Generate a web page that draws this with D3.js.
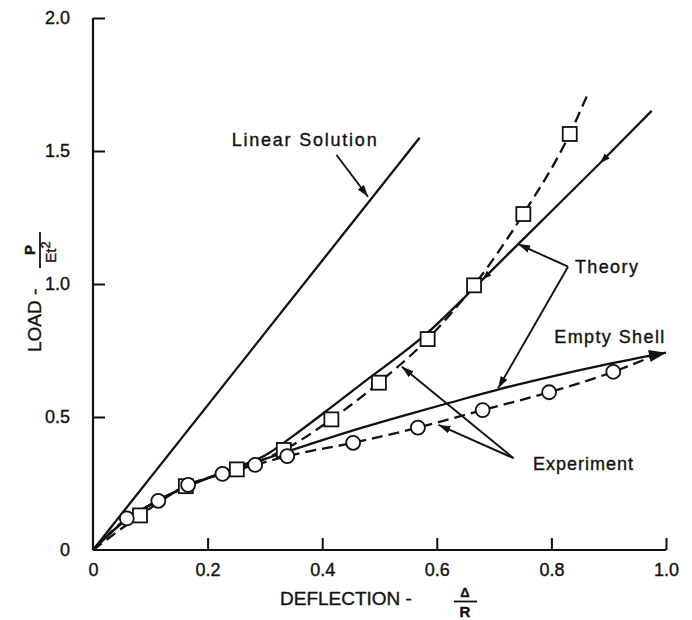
<!DOCTYPE html>
<html><head><meta charset="utf-8">
<script src="https://cdn.jsdelivr.net/npm/d3@7"></script>
<style>html,body{margin:0;padding:0;background:#fff;}svg text{font-family:"Liberation Sans",Arial,sans-serif;fill:#111;stroke:#111;stroke-width:0.35px;}</style>
</head><body><svg id="c" width="692" height="620"></svg>
<script>
// ---- data ----
const xTicks = [0, 0.2, 0.4, 0.6, 0.8, 1.0];
const xTickLabels = ["0", "0.2", "0.4", "0.6", "0.8", "1.0"];
const yTicks = [0, 0.5, 1.0, 1.5, 2.0];
const yTickLabels = ["0", "0.5", "1.0", "1.5", "2.0"];

const linearX = [0, 0.57];
const linearY = [0, 1.55];

const theoryFilledX = [0, 0.05, 0.1, 0.15, 0.2, 0.25, 0.3, 0.35, 0.416, 0.466, 0.584, 0.665, 0.742, 0.885, 0.975];
const theoryFilledY = [0, 0.10, 0.17, 0.225, 0.27, 0.31, 0.355, 0.43, 0.537, 0.62, 0.817, 0.985, 1.15, 1.455, 1.651];

const theoryEmptyX = [0, 0.05, 0.1, 0.15, 0.2, 0.25, 0.3, 0.36, 0.45, 0.55, 0.62, 0.71, 0.8, 0.89, 1.0];
const theoryEmptyY = [0, 0.10, 0.17, 0.225, 0.27, 0.305, 0.342, 0.385, 0.447, 0.51, 0.552, 0.605, 0.652, 0.695, 0.742];

const squareX = [0.082, 0.162, 0.251, 0.333, 0.416, 0.499, 0.584, 0.665, 0.751, 0.832];
const squareY = [0.13, 0.24, 0.303, 0.376, 0.491, 0.629, 0.793, 0.995, 1.263, 1.564];
const squareLineEnd = [0.864, 1.717];

const circleX = [0.059, 0.114, 0.166, 0.226, 0.283, 0.339, 0.454, 0.567, 0.680, 0.796, 0.908];
const circleY = [0.119, 0.185, 0.245, 0.286, 0.32, 0.353, 0.403, 0.46, 0.526, 0.593, 0.670];
const circleLineEnd = [0.99, 0.74];

// ---- layout ----
const svg = d3.select("#c");
const x = d3.scaleLinear().domain([0, 1]).range([93, 666]);
const y = d3.scaleLinear().domain([0, 2]).range([550, 18]);

const defs = svg.append("defs");
defs.append("marker").attr("id", "ah").attr("viewBox", "0 0 10 10").attr("refX", 10).attr("refY", 5)
  .attr("markerWidth", 12).attr("markerHeight", 12).attr("markerUnits", "userSpaceOnUse").attr("orient", "auto")
  .append("path").attr("d", "M0,1.8 L10,5 L0,8.2 Z").attr("fill", "#111");

// axes
const xAxis = d3.axisBottom(x).tickValues(xTicks).tickSize(-12).tickFormat((d, i) => xTickLabels[i]).tickPadding(22);
const gx = svg.append("g").attr("transform", "translate(0,550)").call(xAxis);
const yAxis = d3.axisLeft(y).tickValues(yTicks).tickSize(-12).tickFormat((d, i) => yTickLabels[i]).tickPadding(23);
const gy = svg.append("g").attr("transform", "translate(93,0)").call(yAxis);
[gx, gy].forEach(g => {
  g.select(".domain").attr("stroke", "#111").attr("stroke-width", 2.2);
  g.selectAll(".tick line").attr("stroke", "#111").attr("stroke-width", 2);
  g.selectAll(".tick text").attr("font-size", 18).attr("fill", "#111")
    .style("font-family", "'Liberation Sans',Arial,sans-serif");
});
gx.select(".domain").attr("d", `M${x(0)},0H${x(1)}`);
gy.select(".domain").attr("d", `M0,${y(0)}V${y(2)}`);
gy.selectAll(".tick").filter(d => d === 0).select("line").remove();
gx.selectAll(".tick").filter(d => d === 0).select("line").remove();
gx.selectAll(".tick text").attr("dy", "0.2em");

// axis titles
const xt = svg.append("g");
xt.append("text").attr("x", 280).attr("y", 605).attr("font-size", 19).text("DEFLECTION -");
xt.append("text").attr("x", 465).attr("y", 597).attr("font-size", 13).attr("font-weight", "bold").attr("text-anchor", "middle").text("Δ");
xt.append("line").attr("x1", 454).attr("x2", 477).attr("y1", 601.5).attr("y2", 601.5).attr("stroke", "#111").attr("stroke-width", 1.8);
xt.append("text").attr("x", 465).attr("y", 617).attr("font-size", 15).attr("font-weight", "bold").attr("text-anchor", "middle").text("R");

const yt = svg.append("g").attr("transform", "translate(41,0) rotate(-90)");
yt.append("text").attr("x", -352).attr("y", 0).attr("font-size", 19).text("LOAD -");
yt.append("text").attr("x", -250).attr("y", -6).attr("font-size", 15).attr("font-weight", "bold").attr("text-anchor", "middle").text("P");
yt.append("line").attr("x1", -268).attr("x2", -232).attr("y1", -1).attr("y2", -1).attr("stroke", "#111").attr("stroke-width", 1.8);
const et = yt.append("text").attr("x", -252).attr("y", 15).attr("font-size", 15).attr("text-anchor", "middle");
et.append("tspan").text("Et");
et.append("tspan").attr("dy", -6).attr("font-size", 13).text("2");

// lines
const line = d3.line().x(d => x(d[0])).y(d => y(d[1])).curve(d3.curveMonotoneX);
const zip = (a, b) => a.map((v, i) => [v, b[i]]);

svg.append("path").datum(zip(linearX, linearY)).attr("d", line).attr("fill", "none").attr("stroke", "#111").attr("stroke-width", 2.3);
svg.append("path").datum(zip(theoryFilledX, theoryFilledY)).attr("d", line).attr("fill", "none").attr("stroke", "#111").attr("stroke-width", 2.3);
svg.append("path").datum(zip(theoryEmptyX, theoryEmptyY)).attr("d", line).attr("fill", "none").attr("stroke", "#111").attr("stroke-width", 2.3);

const sqPts = [[0, 0]].concat(zip(squareX, squareY), [squareLineEnd]);
svg.append("path").datum(sqPts).attr("d", line).attr("fill", "none").attr("stroke", "#111").attr("stroke-width", 2.3).attr("stroke-dasharray", "11,6");
const cPts = [[0, 0]].concat(zip(circleX, circleY), [circleLineEnd]);
svg.append("path").datum(cPts).attr("d", line).attr("fill", "none").attr("stroke", "#111").attr("stroke-width", 2.3).attr("stroke-dasharray", "11,6");

// direction arrowheads on curves
function headAt(px, py, ang, size) {
  svg.append("path").attr("d", `M0,0 L${-size},${-size * 0.36} L${-size},${size * 0.36} Z`)
    .attr("transform", `translate(${px},${py}) rotate(${ang})`).attr("fill", "#111");
}
{
  const ang = Math.atan2(y(1.15) - y(1.455), x(0.742) - x(0.885)) * 180 / Math.PI;
  headAt(x(0.885), y(1.455), ang, 10);
  const ang2 = Math.atan2(y(0.985) - y(1.15), x(0.665) - x(0.742)) * 180 / Math.PI;
  headAt(x(0.68), y(1.017), ang2, 9);
  const e1 = [theoryEmptyX[13], theoryEmptyY[13]], e2 = [theoryEmptyX[14], theoryEmptyY[14]];
  const ang3 = Math.atan2(y(e2[1]) - y(e1[1]), x(e2[0]) - x(e1[0])) * 180 / Math.PI;
  headAt(x(e2[0]), y(e2[1]), ang3, 17);
}

// markers
svg.append("g").selectAll("rect").data(zip(squareX, squareY)).join("rect")
  .attr("x", d => x(d[0]) - 7).attr("y", d => y(d[1]) - 7).attr("width", 14).attr("height", 14)
  .attr("fill", "#fff").attr("stroke", "#111").attr("stroke-width", 1.8);
svg.append("g").selectAll("circle").data(zip(circleX, circleY)).join("circle")
  .attr("cx", d => x(d[0])).attr("cy", d => y(d[1])).attr("r", 7)
  .attr("fill", "#fff").attr("stroke", "#111").attr("stroke-width", 1.8);

// annotations
function arrow(x1, y1, x2, y2) {
  svg.append("line").attr("x1", x(x1)).attr("y1", y(y1)).attr("x2", x(x2)).attr("y2", y(y2))
    .attr("stroke", "#111").attr("stroke-width", 1.9).attr("marker-end", "url(#ah)");
}
function label(t, xd, yd, w) {
  svg.append("text").attr("x", x(xd)).attr("y", y(yd)).attr("font-size", 18)
    .attr("textLength", w).attr("lengthAdjust", "spacing").text(t);
}
label("Linear Solution", 0.242, 1.517, 145);
arrow(0.425, 1.485, 0.48, 1.328);
label("Theory", 0.841, 1.041, 63);
arrow(0.829, 1.065, 0.742, 1.150);
arrow(0.829, 1.065, 0.707, 0.608);
label("Empty Shell", 0.805, 0.778, 110);
label("Experiment", 0.768, 0.30, 100);
arrow(0.734, 0.345, 0.539, 0.689);
arrow(0.734, 0.345, 0.603, 0.470);
</script></body></html>
